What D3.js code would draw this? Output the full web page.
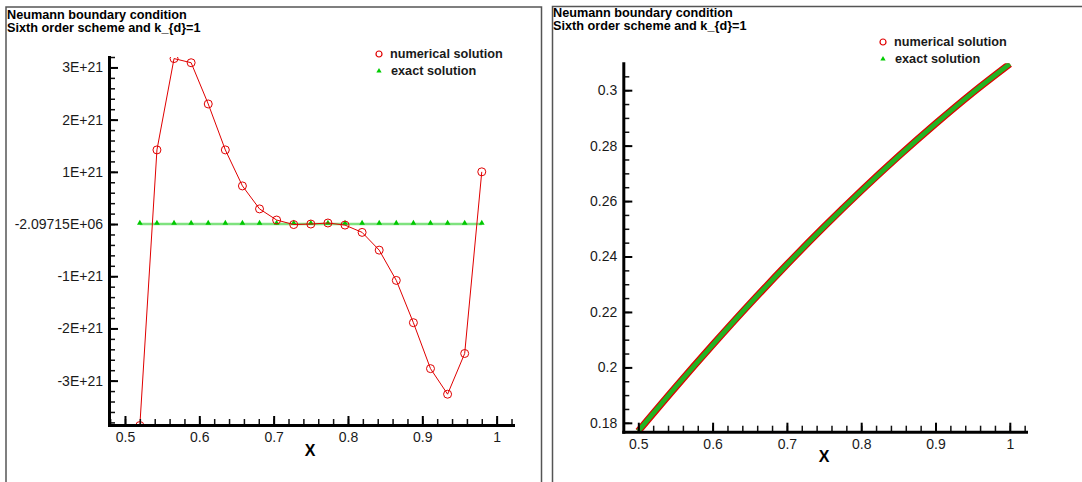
<!DOCTYPE html>
<html>
<head>
<meta charset="utf-8">
<script src="https://cdn.jsdelivr.net/npm/d3@7"></script>
<style>
  body { margin: 0; background: #fff; }
  svg { display: block; font-family: "Liberation Sans", Arial, sans-serif; }
  .domain { stroke: #000; stroke-width: 3; stroke-linecap: square; }
  .major line { stroke: #000; stroke-width: 2; }
  .minor line { stroke: #111; stroke-width: 1.5; }
  .tick text { font-size: 14px; fill: #1a1a1a; }
</style>
</head>
<body>
<svg width="1082" height="482"></svg>
<script>
// titles and legend entries
var titleLines = ["Neumann boundary condition", "Sixth order scheme and k_{d}=1"]
var legendNames = ["numerical solution", "exact solution"]

// left panel: grid points and values (numerical is x 1e21)
var leftX = [0.52, 0.543, 0.566, 0.589, 0.612, 0.635, 0.658, 0.681, 0.704, 0.727, 0.75,
             0.773, 0.796, 0.819, 0.842, 0.865, 0.888, 0.911, 0.934, 0.957, 0.98]
var leftNum = [-3.86, 1.42, 3.17, 3.09, 2.30, 1.42, 0.73, 0.29, 0.077, -0.01, 0.0,
               0.02, -0.02, -0.16, -0.50, -1.08, -1.89, -2.77, -3.26, -2.48, 1.00]
var leftExact = [0, 0, 0, 0, 0, 0, 0, 0, 0, 0, 0, 0, 0, 0, 0, 0, 0, 0, 0, 0, 0]
var leftYTicks = [3, 2, 1, -2.09715e-15, -1, -2, -3]
var leftYLabels = ["3E+21", "2E+21", "1E+21", "-2.09715E+06", "-1E+21", "-2E+21", "-3E+21"]

// right panel: the two solutions lie on top of each other
var rightX = [0.5, 0.55, 0.6, 0.65, 0.7, 0.75, 0.8, 0.85, 0.9, 0.95, 1.0]
var rightNum = [0.1770, 0.1928, 0.2081, 0.2229, 0.2371, 0.2507, 0.2637, 0.2761, 0.2879, 0.2991, 0.3095]
var rightExact = [0.1770, 0.1928, 0.2081, 0.2229, 0.2371, 0.2507, 0.2637, 0.2761, 0.2879, 0.2991, 0.3095]
var rightYTicks = [0.18, 0.2, 0.22, 0.24, 0.26, 0.28, 0.3]
var rightYLabels = ["0.18", "0.2", "0.22", "0.24", "0.26", "0.28", "0.3"]

var xTicks = [0.5, 0.6, 0.7, 0.8, 0.9, 1]
var xLabels = ["0.5", "0.6", "0.7", "0.8", "0.9", "1"]

var svg = d3.select("svg")

function range(a, b, step) { // minor tick positions
  var out = []
  for (var v = a; v <= b + 1e-9; v += step) out.push(+v.toFixed(6))
  return out
}

function panel(opt) {
  var g = svg.append("g")
  // frame
  g.append("rect").attr("x", opt.frame[0]).attr("y", opt.frame[1])
   .attr("width", opt.frame[2]).attr("height", opt.frame[3])
   .attr("fill", "none").attr("stroke", "#555").attr("stroke-width", 1.5)
  g.selectAll(".title").data(titleLines).enter().append("text")
   .attr("x", opt.titleX).attr("y", function(d, i) { return opt.titleY + i * 12.5 })
   .attr("font-size", "12.7px").attr("font-weight", "bold").text(function(d) { return d })

  var x = d3.scaleLinear().domain(opt.xDom).range([opt.left, opt.right])
  var y = d3.scaleLinear().domain(opt.yDom).range([opt.bottom, opt.top])

  var clipId = "clip" + opt.id
  svg.append("clipPath").attr("id", clipId).append("rect")
     .attr("x", opt.left).attr("y", opt.top)
     .attr("width", opt.right - opt.left).attr("height", opt.bottom - opt.top)
  var plot = g.append("g").attr("clip-path", "url(#" + clipId + ")")
  opt.draw(plot, x, y)

  // minor ticks
  g.append("g").attr("class", "minor").attr("transform", "translate(0," + opt.bottom + ")")
   .call(d3.axisBottom(x).tickValues(range(0.48, 1.02, 0.02)).tickSize(-6).tickFormat(""))
   .select(".domain").remove()
  g.append("g").attr("class", "minor").attr("transform", "translate(" + opt.left + ",0)")
   .call(d3.axisLeft(y).tickValues(opt.yMinor).tickSize(-6).tickFormat(""))
   .select(".domain").remove()
  // major ticks + axis lines
  g.append("g").attr("class", "major").attr("transform", "translate(0," + opt.bottom + ")")
   .call(d3.axisBottom(x).tickValues(xTicks).tickSize(-9).tickSizeOuter(0).tickPadding(7)
          .tickFormat(function(d, i) { return xLabels[i] }))
  g.append("g").attr("class", "major").attr("transform", "translate(" + opt.left + ",0)")
   .call(d3.axisLeft(y).tickValues(opt.yTicks).tickSize(-9).tickSizeOuter(0).tickPadding(6)
          .tickFormat(function(d, i) { return opt.yLabels[i] }))

  g.append("text").attr("x", opt.xLabelPos[0]).attr("y", opt.xLabelPos[1])
   .attr("text-anchor", "middle").attr("font-size", "16px").attr("font-weight", "bold").text("X")

  // legend
  var lg = g.append("g").attr("transform", "translate(" + opt.legend[0] + "," + opt.legend[1] + ")")
  lg.append("circle").attr("cx", 0).attr("cy", 0).attr("r", 3)
    .attr("fill", "none").attr("stroke", "#e00000").attr("stroke-width", 1.2)
  lg.append("path").attr("d", d3.symbol(d3.symbolTriangle, 12)()).attr("transform", "translate(0,17)")
    .attr("fill", "#00cc00")
  lg.selectAll(".lt").data(legendNames).enter().append("text")
    .attr("x", function(d, i) { return 11 + i }).attr("y", function(d, i) { return 4 + i * 17 })
    .attr("font-size", "12.7px").attr("font-weight", "bold").attr("fill", "#1a1a1a")
    .text(function(d) { return d })
}

panel({
  id: "L", frame: [6, 7, 535.5, 500], titleX: 7, titleY: 19,
  left: 109, right: 513, top: 57, bottom: 425,
  xDom: [0.4785, 1.022], yDom: [-3.85, 3.2],
  yTicks: leftYTicks, yLabels: leftYLabels, yMinor: range(-3.8, 3.2, 0.2),
  xLabelPos: [310, 456], legend: [379, 54],
  draw: function(p, x, y) {
    var line = d3.line().x(function(d, i) { return x(leftX[i]) }).y(function(d) { return y(d) })
    p.append("path").datum(leftExact).attr("d", line)
     .attr("fill", "none").attr("stroke", "#7fe27f").attr("stroke-width", 2.5)
    p.selectAll(".tri").data(leftExact).enter().append("path")
     .attr("d", d3.symbol(d3.symbolTriangle, 14)())
     .attr("transform", function(d, i) { return "translate(" + x(leftX[i]) + "," + (y(d) - 1) + ")" })
     .attr("fill", "#00c800")
    p.append("path").datum(leftNum).attr("d", line)
     .attr("fill", "none").attr("stroke", "#e00000").attr("stroke-width", 1)
    p.selectAll(".circ").data(leftNum).enter().append("circle")
     .attr("cx", function(d, i) { return x(leftX[i]) }).attr("cy", function(d) { return y(d) })
     .attr("r", 4).attr("fill", "none").attr("stroke", "#e00000").attr("stroke-width", 1)
  }
})

panel({
  id: "R", frame: [552.5, 6.5, 560, 500], titleX: 553, titleY: 17.3,
  left: 623.3, right: 1026, top: 63.3, bottom: 431.7,
  xDom: [0.4798, 1.0218], yDom: [0.1768, 0.3097],
  yTicks: rightYTicks, yLabels: rightYLabels, yMinor: range(0.18, 0.305, 0.005),
  xLabelPos: [824, 462], legend: [883, 42],
  draw: function(p, x, y) {
    var line = d3.line().curve(d3.curveMonotoneX)
      .x(function(d, i) { return x(rightX[i]) }).y(function(d) { return y(d) })
    p.append("path").datum(rightNum).attr("d", line)
     .attr("fill", "none").attr("stroke", "#e00000").attr("stroke-width", 7)
    p.append("path").datum(rightExact).attr("d", line)
     .attr("fill", "none").attr("stroke", "#22b322").attr("stroke-width", 4.6)
  }
})
</script>
</body>
</html>
